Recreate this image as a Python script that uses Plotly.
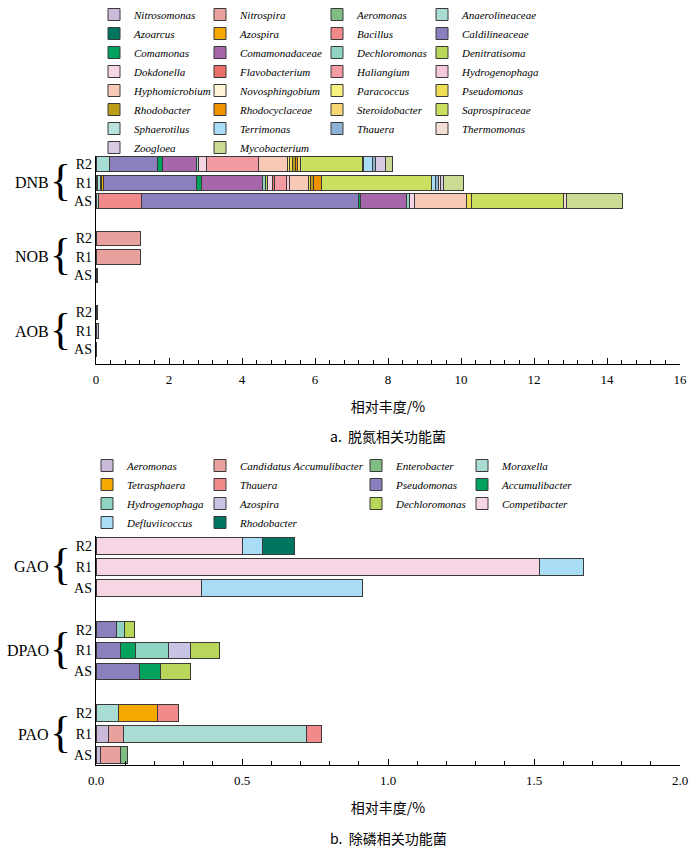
import plotly.graph_objects as go

# ---------------- top chart (nitrogen removal) ----------------
dnb_samples = ["DNB R2", "DNB R1", "DNB AS"]
nob_samples = ["NOB R2", "NOB R1", "NOB AS"]
aob_samples = ["AOB R2", "AOB R1", "AOB AS"]

nitrosomonas = [0.05, 0.06, 0.01]          # AOB
nitrospira = [1.23, 1.22, 0.03]            # NOB
# DNB values: [R2, R1, AS]
aeromonas_d = [None, 0.04, None]
anaerolineaceae = [0.36, 0.07, 0.06]
azoarcus = [None, 0.04, None]
azospira_d = [None, 0.05, None]
bacillus = [None, None, 1.18]
caldilineaceae = [1.33, 2.54, 5.95]
comamonas = [0.13, 0.16, 0.06]
comamonadaceae = [0.92, 1.66, 1.26]
dechloromonas_d = [0.06, 0.09, 0.09]
denitratisoma = [None, 0.05, None]
dokdonella = [0.22, 0.13, 0.13]
flavobacterium = [None, 0.05, None]
haliangium = [1.43, 0.34, None]
hydrogenophaga_d = [None, 0.09, None]
hyphomicrobium = [0.80, 0.52, 1.41]
novosphingobium = [None, None, None]
paracoccus = [0.06, None, None]
pseudomonas_d = [0.07, 0.06, 0.16]
rhodobacter_d = [0.08, 0.08, None]
rhodocyclaceae = [0.07, 0.21, None]
steroidobacter = [0.06, None, None]
saprospiraceae = [1.71, 3.00, 2.51]
sphaerotilus = [0.03, None, None]
terrimonas = [0.25, 0.11, None]
thauera_d = [0.09, 0.09, None]
thermomonas = [None, 0.05, 0.09]
zoogloea = [0.25, 0.08, None]
mycobacterium = [0.21, 0.55, 1.52]

top_names = ["Nitrosomonas", "Nitrospira", "Aeromonas", "Anaerolineaceae",
             "Azoarcus", "Azospira", "Bacillus", "Caldilineaceae",
             "Comamonas", "Comamonadaceae", "Dechloromonas", "Denitratisoma",
             "Dokdonella", "Flavobacterium", "Haliangium", "Hydrogenophaga",
             "Hyphomicrobium", "Novosphingobium", "Paracoccus", "Pseudomonas",
             "Rhodobacter", "Rhodocyclaceae", "Steroidobacter", "Saprospiraceae",
             "Sphaerotilus", "Terrimonas", "Thauera", "Thermomonas",
             "Zoogloea", "Mycobacterium"]
top_values = [nitrosomonas, nitrospira, aeromonas_d, anaerolineaceae,
              azoarcus, azospira_d, bacillus, caldilineaceae,
              comamonas, comamonadaceae, dechloromonas_d, denitratisoma,
              dokdonella, flavobacterium, haliangium, hydrogenophaga_d,
              hyphomicrobium, novosphingobium, paracoccus, pseudomonas_d,
              rhodobacter_d, rhodocyclaceae, steroidobacter, saprospiraceae,
              sphaerotilus, terrimonas, thauera_d, thermomonas,
              zoogloea, mycobacterium]
top_groups = [aob_samples, nob_samples] + [dnb_samples] * 28
top_colors = ["#CBB9D9", "#E8A19C", "#80BD82", "#A9DCD3",
              "#00755F", "#F5A800", "#F28A8C", "#8B80BD",
              "#00A25E", "#A567A9", "#8FD3C2", "#B7D65A",
              "#F6D5E4", "#EA6F69", "#F29BA3", "#F6C8DC",
              "#F9C9B8", "#FFF4D8", "#F9F17F", "#EEDD55",
              "#BD9C18", "#EE9200", "#F8D874", "#CAE061",
              "#B9E4DD", "#A9DDF6", "#8CB2D6", "#F3DFD6",
              "#D9CAE4", "#CCDB93"]

top_order = ["AOB AS", "AOB R1", "AOB R2", "gap1",
             "NOB AS", "NOB R1", "NOB R2", "gap2",
             "DNB AS", "DNB R1", "DNB R2"]
top_ticks = ["AOB AS", "AOB R1", "AOB R2", "NOB AS", "NOB R1", "NOB R2",
             "DNB AS", "DNB R1", "DNB R2"]
top_ticktext = ["AS", "R1", "R2"] * 3
top_group_labels = [("DNB", "DNB R1"), ("NOB", "NOB R1"), ("AOB", "AOB R1")]

# ---------------- bottom chart (phosphorus removal) ----------------
gao_samples = ["GAO R2", "GAO R1", "GAO AS"]
dpao_samples = ["DPAO R2", "DPAO R1", "DPAO AS"]
pao_samples = ["PAO R2", "PAO R1", "PAO AS"]

aeromonas_p = [None, 0.044, 0.016]
cand_accumulibacter = [None, 0.051, 0.069]
enterobacter = [None, None, 0.023]
moraxella = [0.077, 0.625, None]
tetrasphaera = [0.135, None, None]
thauera_p = [0.071, 0.053, None]
pseudomonas_p = [0.070, 0.084, 0.149]
accumulibacter = [None, 0.052, 0.072]
hydrogenophaga_p = [0.027, 0.112, None]
azospira_p = [None, 0.077, None]
dechloromonas_p = [0.036, 0.098, 0.104]
competibacter = [0.50, 1.52, 0.36]
defluviicoccus = [0.071, 0.15, 0.553]
rhodobacter_p = [0.108, None, None]

bot_names = ["Aeromonas", "Candidatus Accumulibacter", "Enterobacter", "Moraxella",
             "Tetrasphaera", "Thauera", "Pseudomonas", "Accumulibacter",
             "Hydrogenophaga", "Azospira", "Dechloromonas", "Competibacter",
             "Defluviicoccus", "Rhodobacter"]
bot_values = [aeromonas_p, cand_accumulibacter, enterobacter, moraxella,
              tetrasphaera, thauera_p, pseudomonas_p, accumulibacter,
              hydrogenophaga_p, azospira_p, dechloromonas_p, competibacter,
              defluviicoccus, rhodobacter_p]
bot_groups = [pao_samples] * 6 + [dpao_samples] * 5 + [gao_samples] * 3
bot_colors = ["#CBB9D9", "#E8A19C", "#80BD82", "#A9DCD3",
              "#F5A800", "#F28A8C", "#8B80BD", "#00A25E",
              "#8FD3C2", "#C8C4E3", "#B7D65A", "#F6D5E4",
              "#A9DDF6", "#00755F"]

bot_order = ["PAO AS", "PAO R1", "PAO R2", "gap1",
             "DPAO AS", "DPAO R1", "DPAO R2", "gap2",
             "GAO AS", "GAO R1", "GAO R2"]
bot_ticks = ["PAO AS", "PAO R1", "PAO R2", "DPAO AS", "DPAO R1", "DPAO R2",
             "GAO AS", "GAO R1", "GAO R2"]
bot_ticktext = ["AS", "R1", "R2"] * 3
bot_group_labels = [("GAO", "GAO R1"), ("DPAO", "DPAO R1"), ("PAO", "PAO R1")]

# ---------------- figure ----------------
W, H = 700, 850
SERIF = "Liberation Serif, Times New Roman, serif"
CJK = "Noto Sans CJK SC, sans-serif"
LINE = dict(color="#3a3a3a", width=1)


def px(sx):
    """pixel x -> paper x"""
    return sx / W


def py(sy):
    """pixel y (from top) -> paper y"""
    return 1 - sy / H


fig = go.Figure()
top_legends = ["legend", "legend2", "legend3", "legend4"]
bot_legends = ["legend5", "legend6", "legend7", "legend8"]

for i, name in enumerate(top_names):
    fig.add_trace(go.Bar(
        x=top_values[i], y=top_groups[i], orientation="h", name=name,
        marker=dict(color=top_colors[i], line=LINE),
        legend=top_legends[i % 4], xaxis="x", yaxis="y",
        hovertemplate=name + ": %{x}<extra></extra>"))

for i, name in enumerate(bot_names):
    fig.add_trace(go.Bar(
        x=bot_values[i], y=bot_groups[i], orientation="h", name=name,
        marker=dict(color=bot_colors[i], line=LINE),
        legend=bot_legends[i % 4], xaxis="x2", yaxis="y2",
        hovertemplate=name + ": %{x}<extra></extra>"))

xdom = [px(96), px(680)]
top_dom = [py(364), py(156)]
bot_dom = [py(765), py(536)]


def xaxis_style(rng, dtick, minor_dtick, fmt, anchor, title):
    return dict(
        domain=xdom, range=rng, anchor=anchor, dtick=dtick, tick0=0,
        tickformat=fmt, showgrid=False, zeroline=False,
        showline=True, linecolor="black", linewidth=1.4,
        ticks="inside", ticklen=6, tickwidth=1.3, tickcolor="black",
        minor=dict(ticks="inside", ticklen=3.5, dtick=minor_dtick,
                   tickwidth=1.1, tickcolor="black", showgrid=False),
        tickfont=dict(family=SERIF, size=13, color="black"),
        ticklabelstandoff=3, automargin=False,
        title=dict(text=title, font=dict(family=CJK, size=14, color="black"),
                   standoff=16))


def yaxis_style(dom, order, ticks, ticktext, rng, anchor):
    return dict(
        domain=dom, type="category", categoryorder="array",
        categoryarray=order, range=rng, anchor=anchor,
        tickmode="array", tickvals=ticks, ticktext=ticktext,
        showgrid=False, zeroline=False, ticks="", automargin=False,
        showline=True, linecolor="black", linewidth=1.4,
        tickfont=dict(family=SERIF, size=14, color="black"))


legend_common = dict(
    xanchor="left", yanchor="top", orientation="v", traceorder="normal",
    bgcolor="rgba(0,0,0,0)", borderwidth=0,
    font=dict(family=SERIF, size=11, color="black", style="italic"))

top_leg_x = [94, 200, 317, 422]
bot_leg_x = [87, 200, 356, 462]
legends = {}
for k, lx in enumerate(top_leg_x):
    legends[top_legends[k]] = dict(legend_common, x=px(lx), y=1)
for k, lx in enumerate(bot_leg_x):
    legends[bot_legends[k]] = dict(legend_common, x=px(lx), y=py(451))

annotations = []
for yref, groups in (("y", top_group_labels), ("y2", bot_group_labels)):
    for label, mid in groups:
        annotations.append(dict(text=label, x=px(51), xref="paper", y=mid, yref=yref,
                                showarrow=False, xanchor="right",
                                font=dict(family=SERIF, size=16, color="black")))
        annotations.append(dict(text="{", x=px(60), xref="paper", y=mid, yref=yref,
                                showarrow=False, xanchor="center", yshift=2,
                                font=dict(family=SERIF, size=44, color="black")))

annotations.append(dict(text="a.  脱氮相关功能菌", x=px(388), y=py(436),
                        xref="paper", yref="paper", showarrow=False,
                        xanchor="center", yanchor="middle",
                        font=dict(family=CJK, size=14, color="black")))
annotations.append(dict(text="b.  除磷相关功能菌", x=px(388), y=py(838),
                        xref="paper", yref="paper", showarrow=False,
                        xanchor="center", yanchor="middle",
                        font=dict(family=CJK, size=14, color="black")))

fig.update_layout(
    width=W, height=H,
    margin=dict(l=0, r=0, t=0, b=0, pad=0, autoexpand=False),
    paper_bgcolor="white", plot_bgcolor="white",
    barmode="stack", bargap=0.2,
    xaxis=xaxis_style([0, 16], 2, 0.4, "d", "y", "相对丰度/%"),
    yaxis=yaxis_style(top_dom, top_order, top_ticks, top_ticktext, [-0.78, 10.45], "x"),
    xaxis2=xaxis_style([0, 2], 0.5, 0.1, ".1f", "y2", "相对丰度/%"),
    yaxis2=yaxis_style(bot_dom, bot_order, bot_ticks, bot_ticktext, [-0.48, 10.48], "x2"),
    annotations=annotations,
    **legends,
)

# remove the default page margin so the 700x850 figure fills the window exactly
fig.write_html("out.html", config={"displayModeBar": False},
               post_script="document.body.style.margin='0px';")
